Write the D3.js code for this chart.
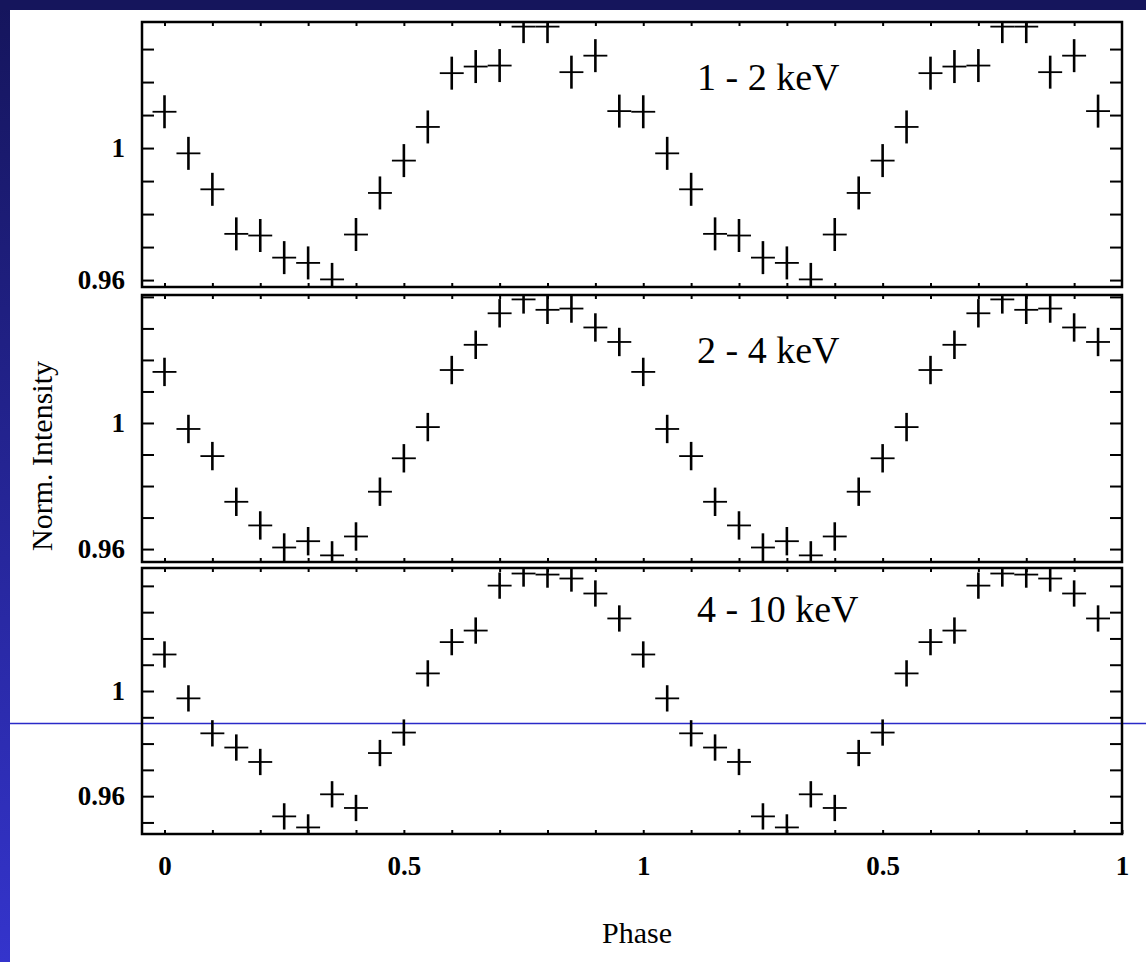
<!DOCTYPE html>
<html>
<head>
<meta charset="utf-8">
<script src="https://cdn.jsdelivr.net/npm/d3@7"></script>
<style>
  html, body { margin: 0; padding: 0; background: #ffffff; }
  svg { display: block; }
  text { font-family: "Liberation Serif", "Times New Roman", serif; fill: #000; }
</style>
</head>
<body>
<svg id="chart" width="1146" height="962"></svg>
<script>
// Pulse phase bins (one cycle); the profile is shown over two cycles.
const phaseBins = [0.00, 0.05, 0.10, 0.15, 0.20, 0.25, 0.30, 0.35, 0.40, 0.45,
                   0.50, 0.55, 0.60, 0.65, 0.70, 0.75, 0.80, 0.85, 0.90, 0.95];
const cycles = [0, 1];

// Normalised intensity per phase bin, one array per energy band
const intensity1to2 = [1.0110, 0.9984, 0.9875, 0.9740, 0.9735, 0.9668, 0.9652, 0.9602, 0.9738, 0.9864,
                       0.9962, 1.0064, 1.0227, 1.0247, 1.0250, 1.0368, 1.0368, 1.0230, 1.0280, 1.0112];
const intensity2to4 = [1.0162, 0.9981, 0.9895, 0.9750, 0.9675, 0.9605, 0.9625, 0.9580, 0.9640, 0.9782,
                       0.9888, 0.9987, 1.0168, 1.0248, 1.0348, 1.0392, 1.0359, 1.0363, 1.0303, 1.0257];
const intensity4to10 = [1.0139, 0.9972, 0.9839, 0.9785, 0.9730, 0.9523, 0.9481, 0.9607, 0.9555, 0.9764,
                        0.9842, 1.0067, 1.0186, 1.0230, 1.0401, 1.0447, 1.0443, 1.0428, 1.0371, 1.0276];

// 1-sigma uncertainty of each band
const sigma1to2 = 0.0050;
const sigma2to4 = 0.0045;
const sigma4to10 = 0.0050;

const bandNames = ["1 - 2 keV", "2 - 4 keV", "4 - 10 keV"];
const yLabelValues = [0.96, 1];
const xLabelPhases = [0, 0.5, 1, 1.5, 2];
const xLabelTexts = ["0", "0.5", "1", "0.5", "1"];

const bands = [
  { name: bandNames[0], values: intensity1to2, sigma: sigma1to2 },
  { name: bandNames[1], values: intensity2to4, sigma: sigma2to4 },
  { name: bandNames[2], values: intensity4to10, sigma: sigma4to10 }
];

// ---- layout ----
const W = 1146, H = 962;
const plotLeft = 142, plotRight = 1122;
const panelBoxes = [
  { top: 22,  bottom: 287, lo: 0.9579, hi: 1.0382 },
  { top: 295, bottom: 562, lo: 0.9559, hi: 1.0406 },
  { top: 568, bottom: 834, lo: 0.9456, hi: 1.0468 }
];
const labelY = [90, 363, 622];
const halfBin = 0.025;

const svg = d3.select("#chart");

// slide background: dark band on top, blue gradient strip on the left
const defs = svg.append("defs");
const grad = defs.append("linearGradient")
  .attr("id", "stripGrad").attr("x1", 0).attr("y1", 0).attr("x2", 0).attr("y2", 1);
grad.append("stop").attr("offset", "0%").attr("stop-color", "#15155c");
grad.append("stop").attr("offset", "100%").attr("stop-color", "#3434cc");

svg.append("rect").attr("x", 0).attr("y", 0).attr("width", W).attr("height", H).attr("fill", "#ffffff");
svg.append("rect").attr("x", 0).attr("y", 0).attr("width", 10).attr("height", H).attr("fill", "url(#stripGrad)");
svg.append("rect").attr("x", 0).attr("y", 0).attr("width", W).attr("height", 10).attr("fill", "#15155c");

// thin guide line across the slide
svg.append("line")
  .attr("x1", 10).attr("x2", W).attr("y1", 723.5).attr("y2", 723.5)
  .attr("stroke", "#2a2ac8").attr("stroke-width", 1.4);

const x = d3.scaleLinear().domain([-0.047, 2.0]).range([plotLeft, plotRight]);
const xTicks = d3.range(0, 20).map(k => k / 10);

bands.forEach((band, bi) => {
  const box = panelBoxes[bi];
  const y = d3.scaleLinear().domain([box.lo, box.hi]).range([box.bottom, box.top]);
  const yTicks = d3.range(Math.ceil(box.lo * 100), Math.floor(box.hi * 100) + 1).map(k => k / 100);
  const g = svg.append("g");

  const clipId = "clip" + bi;
  defs.append("clipPath").attr("id", clipId)
    .append("rect")
    .attr("x", plotLeft).attr("y", box.top)
    .attr("width", plotRight - plotLeft).attr("height", box.bottom - box.top);

  // inward ticks on all four sides
  const isLabelled = d => yLabelValues.some(v => Math.abs(v - d) < 1e-9);
  const left = g.append("g").attr("transform", `translate(${plotLeft},0)`)
    .call(d3.axisLeft(y).tickValues(yTicks).tickSize(-12).tickPadding(17)
      .tickFormat(d => isLabelled(d) ? d3.format("~g")(d) : ""));
  const right = g.append("g").attr("transform", `translate(${plotRight},0)`)
    .call(d3.axisRight(y).tickValues(yTicks).tickSize(-12).tickFormat(""));
  const top = g.append("g").attr("transform", `translate(0,${box.top})`)
    .call(d3.axisTop(x).tickValues(xTicks).tickSize(-4).tickFormat(""));
  const bottomAxis = d3.axisBottom(x).tickSize(-4);
  if (bi === bands.length - 1) {
    bottomAxis.tickValues(xTicks.concat([2])).tickPadding(22)
      .tickFormat(d => {
        const i = xLabelPhases.findIndex(p => Math.abs(p - d) < 1e-9);
        return i >= 0 ? xLabelTexts[i] : "";
      });
  } else {
    bottomAxis.tickValues(xTicks).tickFormat("");
  }
  const bottom = g.append("g").attr("transform", `translate(0,${box.bottom})`).call(bottomAxis);

  [left, right, top, bottom].forEach(a => {
    a.select(".domain").remove();
    a.selectAll(".tick line").attr("stroke", "#000").attr("stroke-width", 2);
    a.selectAll(".tick text")
      .attr("font-size", 27).attr("font-weight", "bold").attr("fill", "#000");
  });

  // data crosses: phase-bin width horizontally, 1-sigma vertically
  const points = cycles.flatMap(c => phaseBins.map((p, i) => ({ phase: p + c, v: band.values[i] })));
  const marks = g.append("g").attr("clip-path", `url(#${clipId})`);
  marks.selectAll("line.hbar").data(points).join("line")
    .attr("class", "hbar")
    .attr("x1", d => x(d.phase - halfBin)).attr("x2", d => x(d.phase + halfBin))
    .attr("y1", d => y(d.v)).attr("y2", d => y(d.v))
    .attr("stroke", "#000").attr("stroke-width", 1.8);
  marks.selectAll("line.vbar").data(points).join("line")
    .attr("class", "vbar")
    .attr("x1", d => x(d.phase)).attr("x2", d => x(d.phase))
    .attr("y1", d => y(d.v - band.sigma)).attr("y2", d => y(d.v + band.sigma))
    .attr("stroke", "#000").attr("stroke-width", 2.6);

  // panel frame
  g.append("rect")
    .attr("x", plotLeft).attr("y", box.top)
    .attr("width", plotRight - plotLeft).attr("height", box.bottom - box.top)
    .attr("fill", "none").attr("stroke", "#000").attr("stroke-width", 2.5);

  // energy band label
  g.append("text")
    .attr("x", 697).attr("y", labelY[bi])
    .attr("font-size", 38)
    .text(band.name);
});

// axis titles
svg.append("text")
  .attr("transform", "translate(52,456) rotate(-90)")
  .attr("text-anchor", "middle")
  .attr("font-size", 30)
  .text("Norm. Intensity");

svg.append("text")
  .attr("x", 637).attr("y", 943)
  .attr("text-anchor", "middle")
  .attr("font-size", 30)
  .text("Phase");
</script>
</body>
</html>
